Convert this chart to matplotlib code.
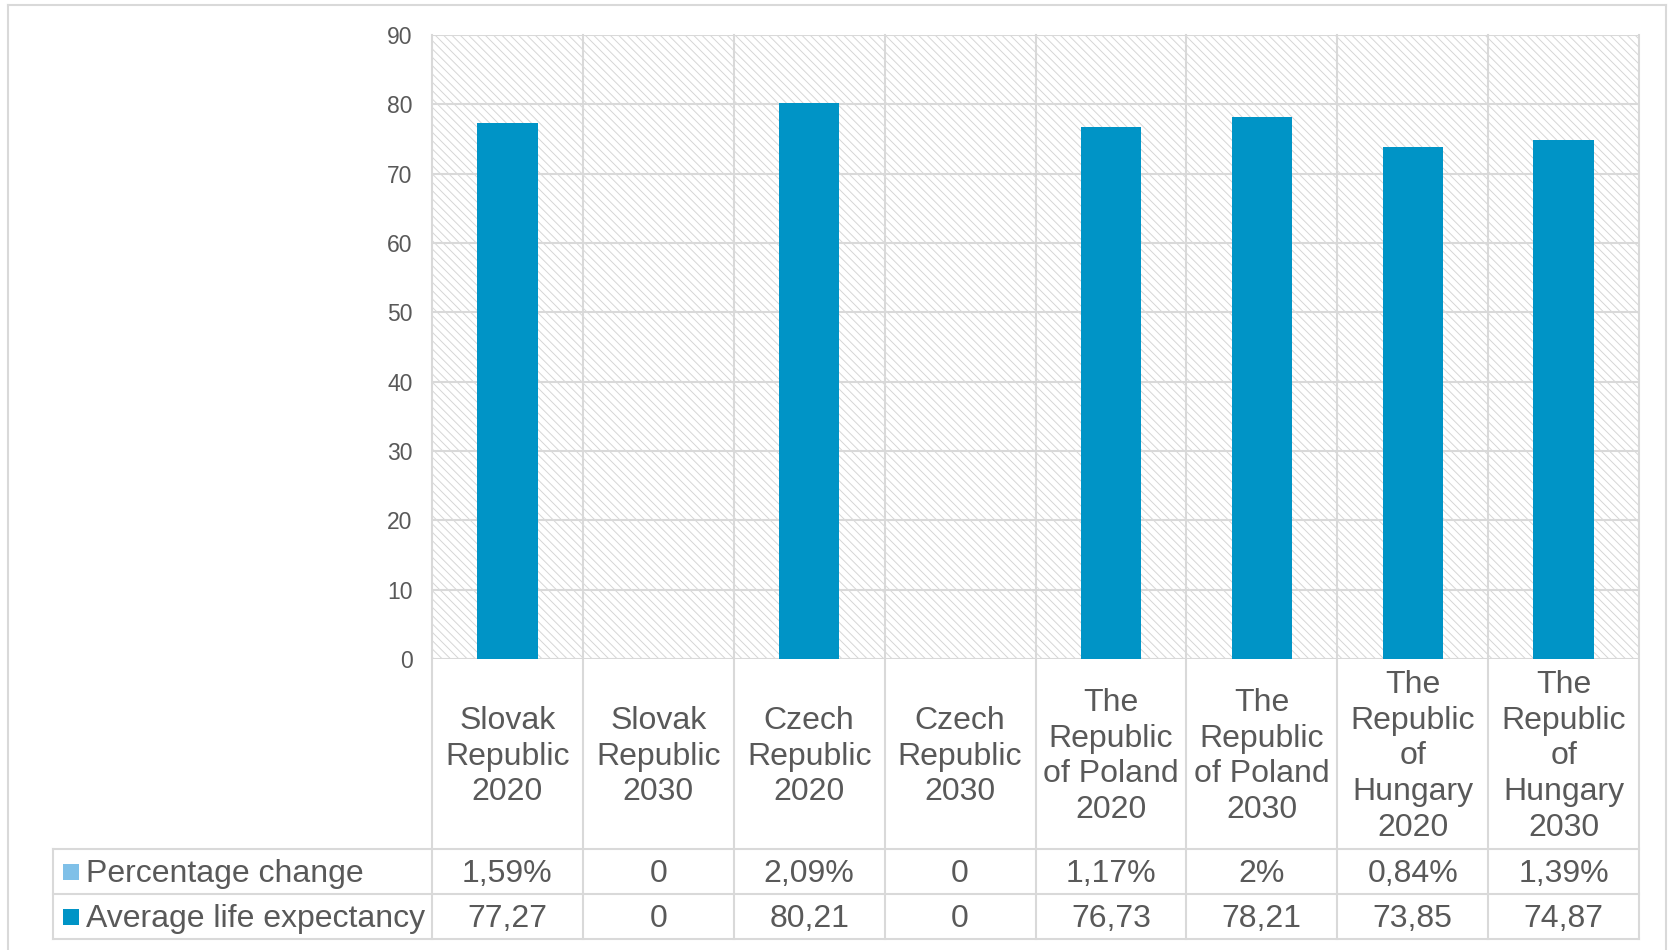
'''bar chart of average life expectancy for V4 countries (2020 vs 2030)
with an Excel-style data table underneath'''

import matplotlib
matplotlib.use('Agg')
import matplotlib.pyplot as plt
from matplotlib.patches import Rectangle
from matplotlib.lines import Line2D
from matplotlib.transforms import blended_transform_factory

categories = ["Slovak\nRepublic\n2020", "Slovak\nRepublic\n2030",
              "Czech\nRepublic\n2020", "Czech\nRepublic\n2030",
              "The\nRepublic\nof Poland\n2020", "The\nRepublic\nof Poland\n2030",
              "The\nRepublic\nof\nHungary\n2020", "The\nRepublic\nof\nHungary\n2030"]
pct_change = [1.59, 0, 2.09, 0, 1.17, 2, 0.84, 1.39]
life_exp = [77.27, 0, 80.21, 0, 76.73, 78.21, 73.85, 74.87]
series_names = ["Percentage change", "Average life expectancy"]

TEXT = '#595959'
GRID = '#d9d9d9'
DARK = '#0094c6'
LIGHT = '#7fc0e8'

plt.rcParams['font.family'] = ['Liberation Sans', 'DejaVu Sans']
plt.rcParams['hatch.linewidth'] = 0.7

W, H = 1669, 950


# pixel helpers for the figure layout
def fx(px):
    return px / W


def fy(py):
    return 1 - py / H


def fmt_pct(v):
    return '0' if v == 0 else f'{v:g}%'.replace('.', ',')


def fmt_num(v):
    return '0' if v == 0 else f'{v:.2f}'.replace('.', ',')


fig = plt.figure(figsize=(W / 100, H / 100), dpi=100)
left, right, top, bottom = 432, 1639, 35, 659
ax = fig.add_axes([fx(left), fy(bottom), fx(right - left), fy(top) - fy(bottom)])

n = len(categories)
x = list(range(n))
ax.set_xlim(-0.5, n - 0.5)
ax.set_ylim(0, 90)
ax.set_yticks(range(0, 91, 10))
ax.set_xticks([])
ax.tick_params(axis='y', length=0, pad=14, labelsize=16.5, labelcolor=TEXT)
for s in ax.spines.values():
    s.set_visible(False)

# hatched plot background
ax.add_patch(Rectangle((0, 0), 1, 1, transform=ax.transAxes, fill=False,
                       hatch='\\\\\\\\', edgecolor='#d6d6d6', lw=0, zorder=0))
ax.yaxis.grid(True, color=GRID, lw=1.5, zorder=1)
ax.set_axisbelow(True)

ax.bar(x, life_exp, width=0.4, color=DARK, zorder=3)

# data table
trans = blended_transform_factory(ax.transData, fig.transFigure)
row_top, row1, row2, row_bot = bottom, 849, 894, 939
tab_left = 53
line_kw = dict(color=GRID, lw=1.5, clip_on=False, zorder=2)

for k in range(n + 1):
    xb = k - 0.5
    ax.add_line(Line2D([xb, xb], [fy(top), fy(row_bot)], transform=trans, **line_kw))
for py in (row1, row2, row_bot):
    fig.add_artist(Line2D([fx(tab_left), fx(right)], [fy(py), fy(py)], **line_kw))
fig.add_artist(Line2D([fx(tab_left), fx(tab_left)], [fy(row1), fy(row_bot)], **line_kw))

# text centres, nudged down a little so the glyphs sit mid-cell
nudge = 2.5
cy_cat = fy((row_top + row1) / 2 + nudge)
cy1 = fy((row1 + row2) / 2 + nudge)
cy2 = fy((row2 + row_bot) / 2 + nudge)
for i in x:
    ax.text(i, cy_cat, categories[i], transform=trans, ha='center', va='center',
            fontsize=23, color=TEXT, linespacing=1.25)
    ax.text(i, cy1, fmt_pct(pct_change[i]), transform=trans, ha='center',
            va='center', fontsize=23, color=TEXT)
    ax.text(i, cy2, fmt_num(life_exp[i]), transform=trans, ha='center',
            va='center', fontsize=23, color=TEXT)

# legend keys in the table
for name, col, py in zip(series_names, (LIGHT, DARK), (row1, row2)):
    ky = fy((py + 45 / 2) + 8)
    fig.add_artist(Rectangle((fx(63), ky), fx(16), 16 / H,
                             transform=fig.transFigure, color=col, lw=0))
for name, cy in zip(series_names, (cy1, cy2)):
    fig.text(fx(86), cy, name, ha='left', va='center', fontsize=23, color=TEXT)

# chart frame
for xs, ys in (([7.5, 7.5], [5, 950]), ([7.5, 1666], [5, 5]), ([1666, 1666], [5, 950])):
    fig.add_artist(Line2D([fx(v) for v in xs], [fy(v) for v in ys], color=GRID, lw=1.5))

fig.savefig('out.png', dpi=100)
